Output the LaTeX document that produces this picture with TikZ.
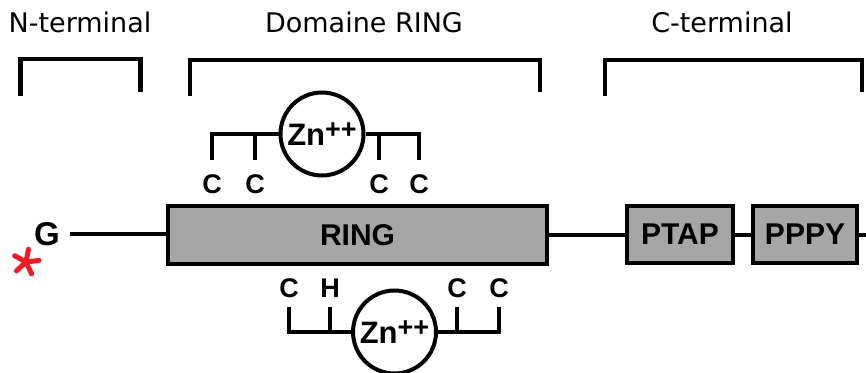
\documentclass[tikz,border=0pt]{standalone}
\usepackage{fontspec}
\setmainfont{Liberation Sans}
\newfontfamily\toplabelfont{DejaVu Sans}
\definecolor{boxgray}{RGB}{166,166,166}
\definecolor{starred}{RGB}{236,28,36}
\begin{document}
\begin{tikzpicture}[x=1pt,y=-1pt,
  toplbl/.style={font=\toplabelfont\fontsize{27}{30}\selectfont, inner sep=0pt, anchor=base},
  brk/.style={line width=4.5pt, line join=miter},
  dombox/.style={draw, line width=4.5pt, fill=boxgray, inner sep=0pt,
    font=\bfseries\fontsize{30}{30}\selectfont},
  mainline/.style={line width=4pt},
  lig/.style={line width=4.2pt},
  res/.style={font=\bfseries\fontsize{27}{27}\selectfont, inner sep=0pt},
  zn/.style={draw, circle, line width=4pt, minimum size=83pt, inner sep=0pt,
    fill=white, font=\bfseries\fontsize{31}{31}\selectfont},
  starline/.style={draw=starred, line width=5pt, line cap=round}]
\useasboundingbox (0,0) rectangle (866,372);

% top labels
\node[toplbl] (nterm) at (80,32) {N-terminal};
\node[toplbl] (dring) at (364,32) {Domaine RING};
\node[toplbl] (cterm) at (722,32) {C-terminal};

% brackets
\draw[brk] (20.7,96) -- (20.7,59) -- (140.3,59) -- (140.3,92);
\draw[brk] (190,96) -- (190,60) -- (540,60) -- (540,92);
\draw[brk] (605,96) -- (605,60) -- (862,60) -- (862,92);

% main chain
\node[font=\bfseries\fontsize{33}{33}\selectfont, inner sep=0pt] (G) at (47,234) {G};
\node[dombox, minimum width=379pt, minimum height=58pt] (ring) at (357.5,235) {RING};
\node[dombox, minimum width=106pt, minimum height=57pt] (ptap) at (680,234.5) {PTAP};
\node[dombox, minimum width=104pt, minimum height=57pt] (pppy) at (805,234.5) {PPPY};
\coordinate (chainend) at (870,234.5);
\draw[mainline, shorten <=10pt] (G.east) -- (ring.west |- G.east);
\draw[mainline] (ring.east |- ptap.west) -- (ptap.west);
\draw[mainline] (ptap.east) -- (pppy.west);
\draw[mainline] (pppy.east) -- (chainend);

% star
\coordinate (star) at (26,262);
\foreach \a in {-7,-79,-151,-223,-295}
  \draw[starline] (star) -- ++(\a:13);

% top zinc finger
\node[zn] (zt) at (322,134) {Zn\raisebox{7pt}{\fontsize{27}{27}\selectfont ++}};
\coordinate (t1) at (212,160);
\coordinate (t2) at (255,160);
\coordinate (t3) at (379,160);
\coordinate (t4) at (419,160);
\draw[lig] (t1) |- (zt.west);
\draw[lig] (t2) -- (t2 |- zt.west);
\draw[lig] (zt.east) -| (t4);
\draw[lig] (t3) -- (t3 |- zt.east);
\node[res] (tc1) at (212,184) {C};
\node[res] (tc2) at (255,184) {C};
\node[res] (tc3) at (379,184) {C};
\node[res] (tc4) at (419,184) {C};

% bottom zinc finger
\node[zn] (zb) at (394.5,332) {Zn\raisebox{7pt}{\fontsize{27}{27}\selectfont ++}};
\coordinate (b1) at (289,307);
\coordinate (b2) at (330,307);
\coordinate (b3) at (457,307);
\coordinate (b4) at (499,307);
\draw[lig] (b1) |- (zb.west);
\draw[lig] (b2) -- (b2 |- zb.west);
\draw[lig] (zb.east) -| (b4);
\draw[lig] (b3) -- (b3 |- zb.east);
\node[res] (bc1) at (289,288) {C};
\node[res] (bh2) at (330,288) {H};
\node[res] (bc3) at (457,288) {C};
\node[res] (bc4) at (499,288) {C};
\end{tikzpicture}
\end{document}
